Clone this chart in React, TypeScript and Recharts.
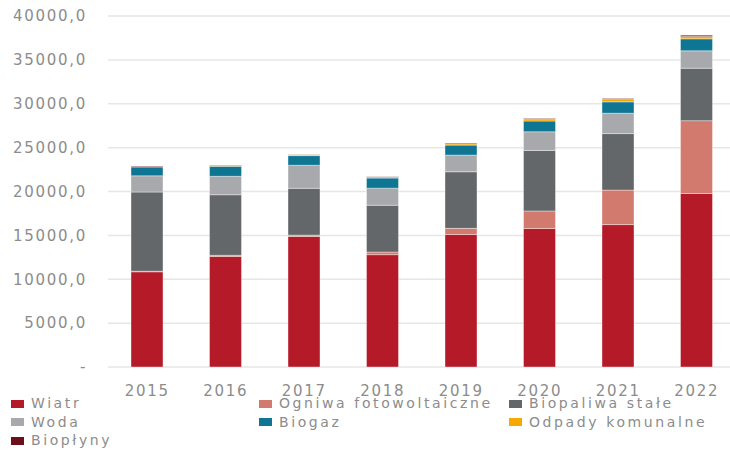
import { BarChart, Bar, XAxis, YAxis, CartesianGrid, Legend } from "recharts";

const YEARS = ["2015", "2016", "2017", "2018", "2019", "2020", "2021", "2022"];

const WIATR = [10850, 12600, 14870, 12800, 15100, 15780, 16230, 19770];
const OGNIWA = [60, 130, 160, 300, 700, 2000, 3930, 8300];
const BIOPALIWA = [9030, 6900, 5330, 5330, 6450, 6900, 6440, 5980];
const WODA = [1850, 2100, 2630, 1950, 1900, 2130, 2320, 1980];
const BIOGAZ = [1000, 1150, 1100, 1150, 1140, 1220, 1300, 1370];
const ODPADY = [0, 60, 100, 100, 150, 250, 340, 250];
const BIOPLYNY = [80, 40, 30, 50, 80, 60, 60, 160];

const Y_TICKS = [0, 5000, 10000, 15000, 20000, 25000, 30000, 35000, 40000];

const SERIES = [
  { key: "wiatr", name: "Wiatr", color: "#b51a29", values: WIATR },
  { key: "ogniwa", name: "Ogniwa fotowoltaiczne", color: "#d27a6e", values: OGNIWA },
  { key: "biopaliwa", name: "Biopaliwa stałe", color: "#636769", values: BIOPALIWA },
  { key: "woda", name: "Woda", color: "#a7a9ac", values: WODA },
  { key: "biogaz", name: "Biogaz", color: "#0e7593", values: BIOGAZ },
  { key: "odpady", name: "Odpady komunalne", color: "#f5a800", values: ODPADY },
  { key: "bioplyny", name: "Biopłyny", color: "#6b0f1a", values: BIOPLYNY },
];

const data = YEARS.map((year, i) => {
  const row: Record<string, string | number> = { year };
  SERIES.forEach((s) => (row[s.key] = s.values[i]));
  return row;
});

const FONT = "'DejaVu Sans', sans-serif";
const TEXT = "#8c8c8c";

// the source image is stretched sideways, so text gets extra letter spacing
const tickStyle = { fontSize: 15, fill: TEXT, fontFamily: FONT, letterSpacing: 1.7 };

const formatY = (v: number) => (v === 0 ? "-" : `${v},0`);

// three-column legend, filled row by row like the Excel original
const LEGEND_COLS = [11, 259, 509];
const ROW_STEP = 18.6;

function LegendGrid() {
  return (
    <div style={{ position: "relative", width: 730, height: 58, fontFamily: FONT }}>
      {SERIES.map((s, i) => {
        const col = i % 3;
        const row = Math.floor(i / 3);
        return (
          <div
            key={s.key}
            style={{
              position: "absolute",
              left: LEGEND_COLS[col],
              top: row * ROW_STEP,
              height: 19,
              display: "flex",
              alignItems: "center",
              whiteSpace: "nowrap",
            }}
          >
            <span style={{ width: 13, height: 8, background: s.color, marginRight: 7 }} />
            <span style={{ fontSize: 14, color: TEXT, letterSpacing: 2.6, lineHeight: "19px" }}>{s.name}</span>
          </div>
        );
      })}
    </div>
  );
}

export default function App() {
  return (
    <div
      style={{
        position: "fixed",
        top: 0,
        left: 0,
        width: 730,
        height: 452,
        overflow: "hidden",
        background: "#fff",
      }}
    >
      <BarChart
        width={736}
        height={452}
        data={data}
        margin={{ top: 16, right: 0, left: 0, bottom: 55 }}
      >
        <CartesianGrid vertical={false} stroke="#e6e6e6" strokeWidth={1.5} />
        <XAxis
          dataKey="year"
          axisLine={false}
          tickLine={false}
          height={30}
          tickMargin={12}
          tick={tickStyle}
          interval={0}
        />
        <YAxis
          width={108}
          domain={[0, 40000]}
          ticks={Y_TICKS}
          tickFormatter={formatY}
          axisLine={false}
          tickLine={false}
          tickMargin={15}
          tick={tickStyle}
        />
        <Legend
          content={() => <LegendGrid />}
          wrapperStyle={{ position: "absolute", top: 394, left: 0, height: 0, width: 730 }}
        />
        {SERIES.map((s) => (
          <Bar
            key={s.key}
            dataKey={s.key}
            name={s.name}
            stackId="a"
            fill={s.color}
            stroke="#ffffff"
            strokeOpacity={0.5}
            strokeWidth={0.75}
            barSize={32}
            isAnimationActive={false}
          />
        ))}
      </BarChart>
    </div>
  );
}
